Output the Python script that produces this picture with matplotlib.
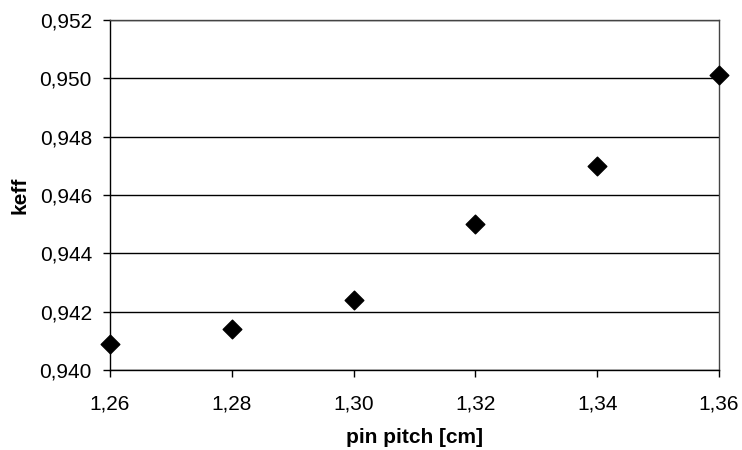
import matplotlib
matplotlib.use("Agg")
import matplotlib.pyplot as plt
from matplotlib.ticker import FuncFormatter, MultipleLocator

plt.rcParams['font.family'] = ['Liberation Sans', 'DejaVu Sans']

# pin pitch [cm] vs keff
pitch = [1.26, 1.28, 1.30, 1.32, 1.34, 1.36]
keff = [0.9409, 0.9414, 0.9424, 0.9450, 0.9470, 0.9501]

fig = plt.figure(figsize=(7.42, 4.5), dpi=100)
ax = fig.add_axes([110/742, 1 - 370/450, (719-110)/742, (370-20)/450])

ax.scatter(pitch, keff, marker="D", s=90, color="black", zorder=3, clip_on=False)

ax.set_xlim(1.26, 1.36)
ax.set_ylim(0.940, 0.952)
ax.xaxis.set_major_locator(MultipleLocator(0.02))
ax.yaxis.set_major_locator(MultipleLocator(0.002))
ax.xaxis.set_major_formatter(FuncFormatter(lambda v, p: f"{v:.2f}".replace(".", ",")))
ax.yaxis.set_major_formatter(FuncFormatter(lambda v, p: f"{v:.3f}".replace(".", ",")))

ax.grid(axis="y", color="black", linewidth=1)
ax.set_axisbelow(True)
for s in ax.spines.values():
    s.set_linewidth(1)
    s.set_color("black")
ax.spines["top"].set_color("#444444")
ax.spines["right"].set_color("#444444")
ax.tick_params(direction="out", length=5, width=1, labelsize=15)
ax.tick_params(axis="x", pad=13)
ax.tick_params(axis="y", pad=8)

ax.set_xlabel("pin pitch [cm]", fontsize=15, fontweight="bold", labelpad=10)
ax.set_ylabel("keff", fontsize=15, fontweight="bold", labelpad=7)

fig.savefig("out.png", dpi=100)
